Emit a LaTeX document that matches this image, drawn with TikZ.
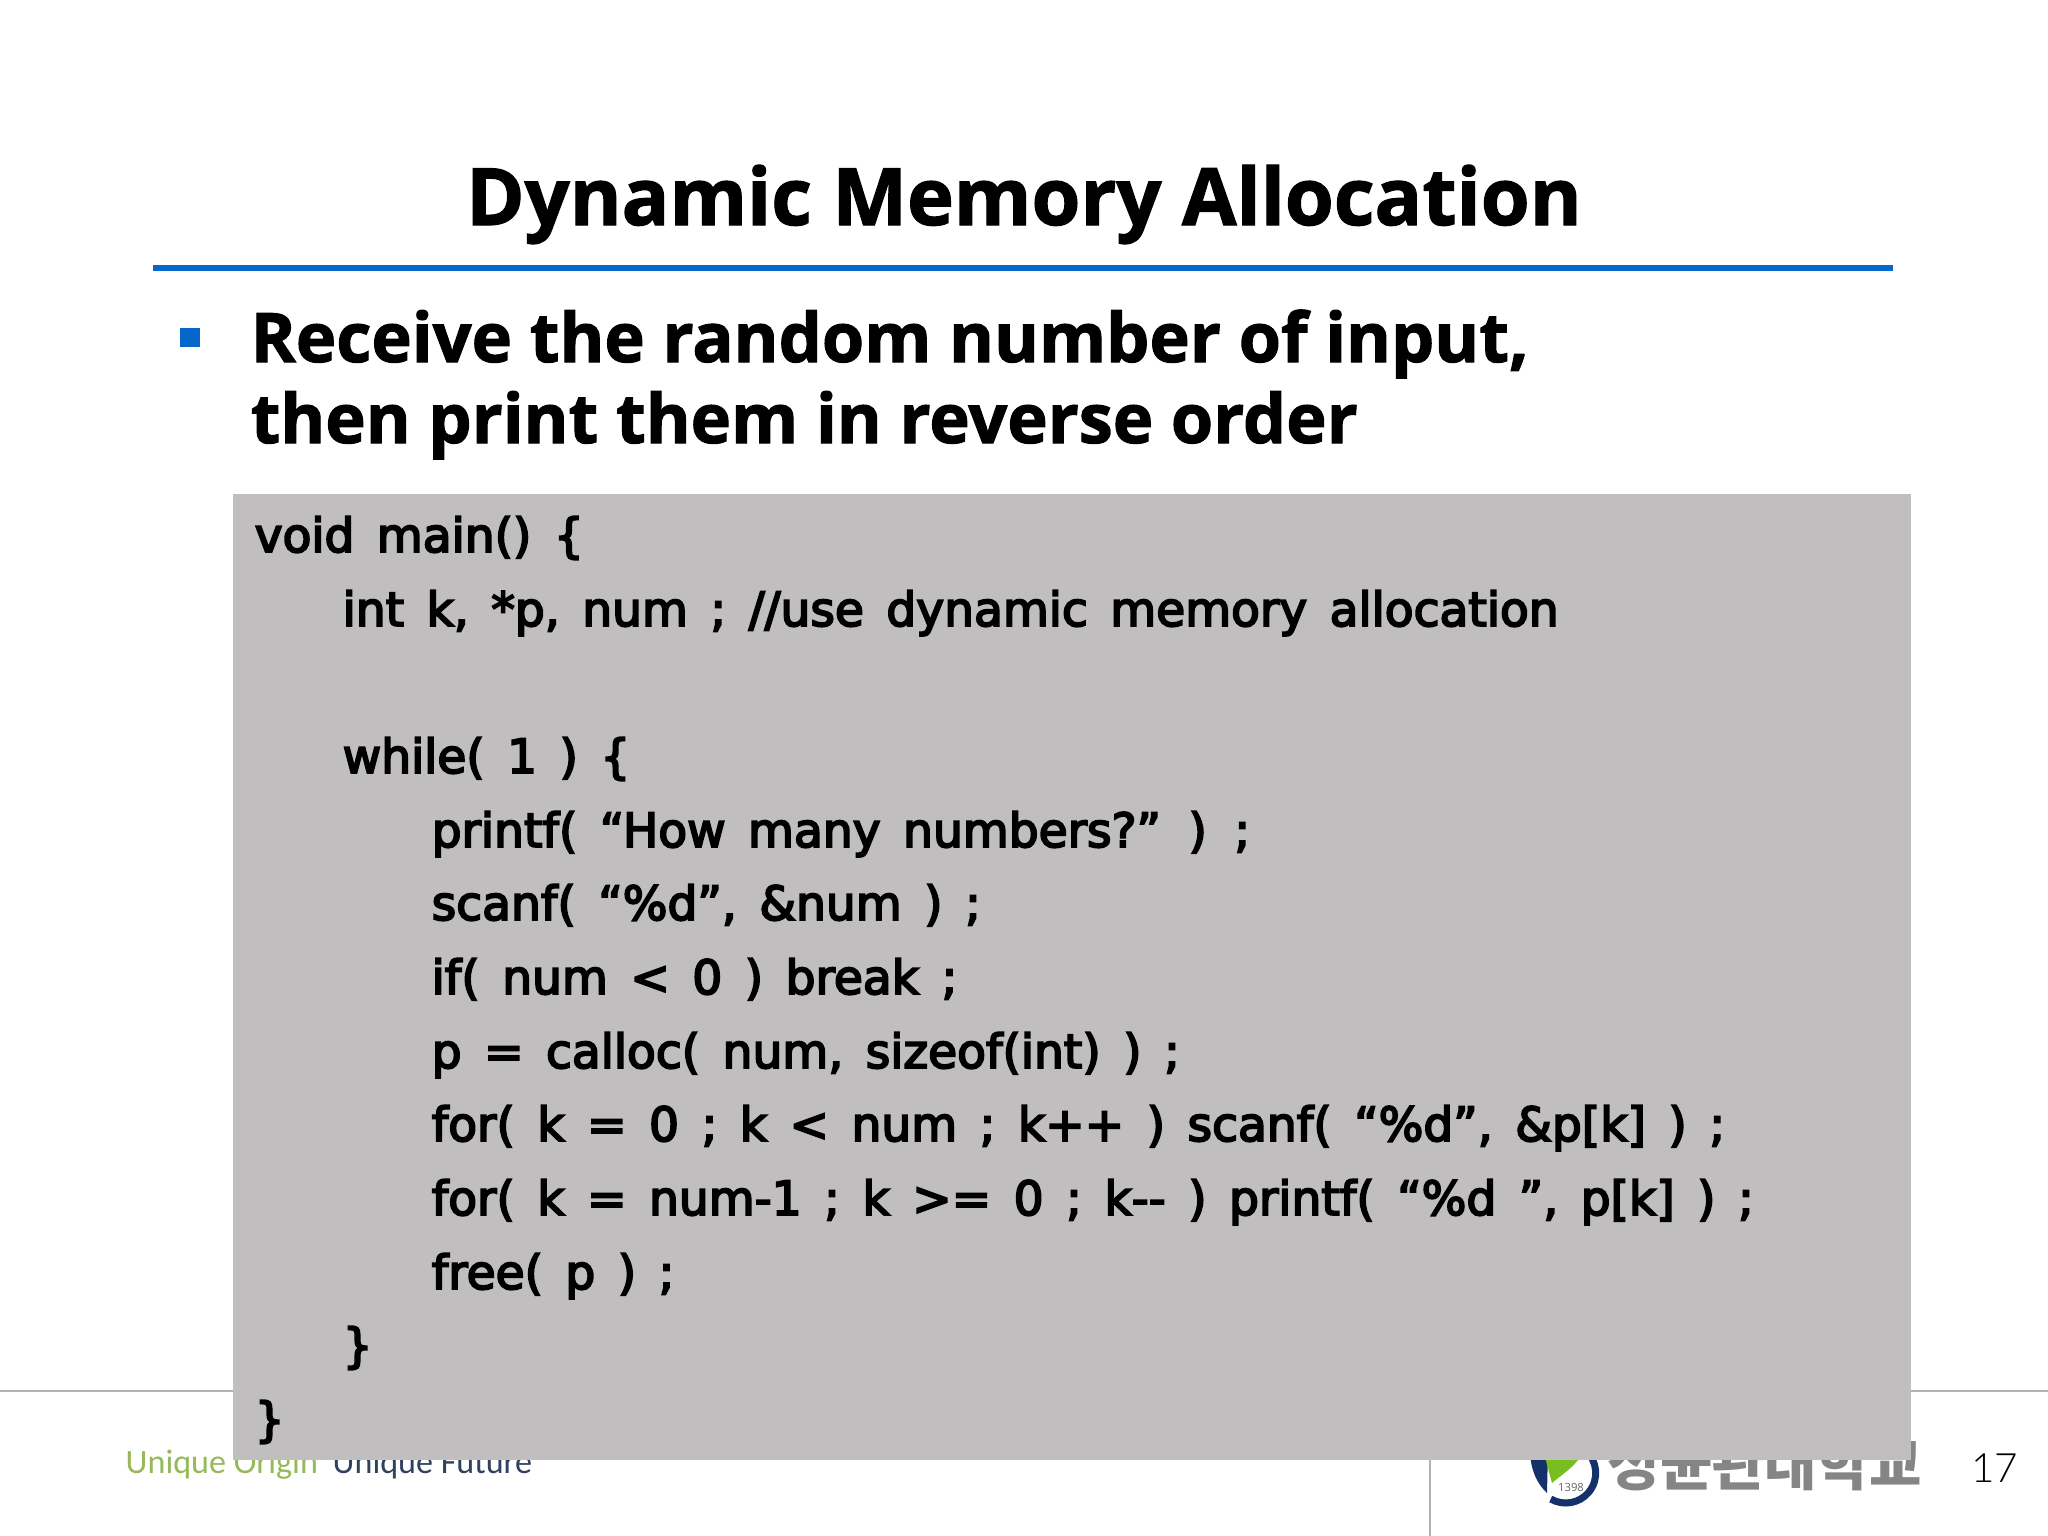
\documentclass[tikz,border=0pt]{standalone}
\usepackage{fontspec}
\usepackage{xcolor}
\setmainfont{Open Sans}[BoldFeatures={FakeBold=1.5}]
\newfontfamily\codefont{DejaVu Sans}[BoldFont={DejaVu Sans},BoldFeatures={FakeBold=4},WordSpace=1.5]
\newfontfamily\sloganfont{Carlito}
\newfontfamily\pagefont{Lato Light}
\newfontfamily\krfont{Noto Sans CJK KR}
\definecolor{dmblue}{RGB}{5,102,204}
\definecolor{dmgray}{RGB}{192,190,191}
\definecolor{dmline}{RGB}{178,178,178}
\definecolor{dmgreen}{RGB}{150,185,90}
\definecolor{dmleaf}{RGB}{120,190,30}
\definecolor{dmnavy}{RGB}{20,50,105}
\definecolor{dmslate}{RGB}{50,65,95}
\tikzstyle{titletext} = [inner sep=0pt,anchor=base,font=\bfseries\fontsize{22.5}{26}\selectfont]
\tikzstyle{headtext} = [inner sep=0pt,anchor=base west,font=\bfseries\fontsize{19.45}{23}\selectfont]
\tikzstyle{codeline} = [inner sep=0pt,anchor=base west,font=\codefont\bfseries\fontsize{13.4}{16}\selectfont]
\begin{document}
\begin{tikzpicture}[x=0.01cm,y=-0.01cm]
\useasboundingbox (0,0) rectangle (2048,1536);
\fill[white] (0,0) rectangle (2048,1536);

% Footer
\draw[dmline, line width=0.7pt] (0,1391) -- (2048,1391);
\draw[dmline, line width=0.7pt] (1430,1391) -- (1430,1536);
\node[inner sep=0pt, anchor=base west, font=\sloganfont\fontsize{9.7}{12}\selectfont, text=dmgreen] (origin) at (125,1473) {Unique Origin};
\node[inner sep=0pt, anchor=base west, font=\sloganfont\fontsize{9.7}{12}\selectfont, text=dmslate] (future) at (332,1473) {Unique Future};
% Logo
\fill[dmnavy] (1530,1450) .. controls (1530,1470) and (1538,1485) .. (1547,1493) -- (1548,1450) -- cycle;
\fill[dmleaf] (1543,1450) -- (1580,1450) -- (1578,1460) .. controls (1570,1470) and (1560,1476) .. (1552,1483) -- cycle;
\draw[dmnavy, line width=2pt] (1585,1450) arc (-50:120:30);
\node[inner sep=0pt, font=\fontsize{3.2}{4}\selectfont, text=black!60] (founded) at (1571,1487) {1398};
\node[inner sep=0pt, anchor=base west, font=\krfont\bfseries\fontsize{16.2}{19}\selectfont, text=black!48] (univ) at (1607,1485) {성균관대학교};
\node[inner sep=0pt, anchor=base east, font=\pagefont\fontsize{11.5}{14}\selectfont] (pagenum) at (2019,1482) {17};

% Title
\node[titletext] (title) at (1024,225) {Dynamic Memory Allocation};
\fill[dmblue] (153,265) rectangle (1893,271);

% Bullet
\fill[dmblue] (180,328) rectangle (200,347);
\node[headtext] (head1) at (250,362) {Receive the random number of input,};
\node[headtext] (head2) at (250,443) {then print them in reverse order};

% Code box
\fill[dmgray] (233,494) rectangle (1911,1460);
\node[codeline] (line1) at (254,552) {void main() \{};
\node[codeline] (line2) at (342,626) {int k, *p, num ; //use dynamic memory allocation};
\node[codeline] (line3) at (342,773) {while( 1 ) \{};
\node[codeline] (line4) at (431,847) {printf( “How many numbers?” ) ;};
\node[codeline] (line5) at (431,920) {scanf( “\%d”, \&num ) ;};
\node[codeline] (line6) at (431,994) {if( num < 0 ) break ;};
\node[codeline] (line7) at (431,1068) {p = calloc( num, sizeof(int) ) ;};
\node[codeline] (line8) at (431,1141) {for( k = 0 ; k < num ; k++ ) scanf( “\%d”, \&p[k] ) ;};
\node[codeline] (line9) at (431,1215) {for( k = num-1 ; k >= 0 ; k-{}- ) printf( “\%d ”, p[k] ) ;};
\node[codeline] (line10) at (431,1289) {free( p ) ;};
\node[codeline] (line11) at (342,1362) {\}};
\node[codeline] (line12) at (254,1436) {\}};
\end{tikzpicture}
\end{document}
